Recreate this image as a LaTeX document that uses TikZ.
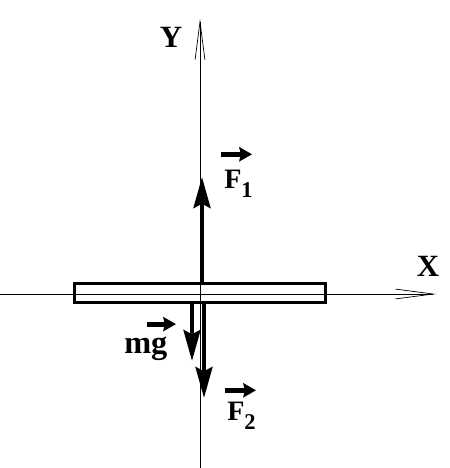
\documentclass[tikz,border=0pt]{standalone}
\usepackage{fontspec}
\setmainfont{Liberation Serif}
\usetikzlibrary{arrows.meta, positioning}

\newcommand{\lowidx}[1]{\raisebox{-7pt}{\fontsize{16}{18}\selectfont #1}}

\begin{document}
\begin{tikzpicture}[x=0.025cm, y=-0.025cm,
    axis/.style={line width=0.6pt, -{Straight Barb[length=27pt, width=7pt, line width=0.5pt]}},
    plate/.style={draw, line width=2.2pt, minimum width=6.275cm, minimum height=0.475cm, inner sep=0pt},
    force/.style={line width=3pt, -{Stealth[length=22pt, width=12pt, inset=3pt]}},
    vecarr/.style={line width=3.4pt, -{Stealth[length=9pt, width=10pt, inset=1pt]}},
    lbl/.style={font=\fontsize{20}{24}\selectfont\bfseries, inner sep=0pt},
  ]
  \useasboundingbox (0,0) rectangle (449,468);

  % axes
  \coordinate (xstart) at (0,294);
  \coordinate (xend) at (436,294);
  \coordinate (ystart) at (200,468);
  \coordinate (yend) at (200,19);
  \draw[axis] (xstart) -- (xend);
  \draw[axis] (ystart) -- (yend);
  \node[lbl, font=\fontsize{22}{26}\selectfont\bfseries] (ylbl) at (171,37) {Y};
  \node[lbl, font=\fontsize{22}{26}\selectfont\bfseries] (xlbl) at (428,266) {X};

  % the plate
  \node[plate] (bar) at (200,293) {};

  % forces
  \coordinate (f1tip) at (202,177);
  \coordinate (mgtip) at (192,361);
  \coordinate (f2tip) at (204,398);
  \draw[force] (bar.north -| f1tip) -- (f1tip);
  \draw[force] (bar.south -| mgtip) -- (mgtip);
  \draw[force] (bar.south -| f2tip) -- (f2tip);

  % force labels
  \node[lbl, anchor=base west] (f1lbl) at (224,188) {F\lowidx{1}};
  \node[lbl, anchor=base west, font=\fontsize{23}{27}\selectfont\bfseries] (mglbl) at (124,353) {mg};
  \node[lbl, anchor=base west] (f2lbl) at (227,420) {F\lowidx{2}};
  \draw[vecarr] ([shift={(-3,-15)}]f1lbl.north west) -- ++(31,0);
  \draw[vecarr] ([shift={(23,-12)}]mglbl.north west) -- ++(29,0);
  \draw[vecarr] ([shift={(-2,-11)}]f2lbl.north west) -- ++(31,0);
\end{tikzpicture}
\end{document}
